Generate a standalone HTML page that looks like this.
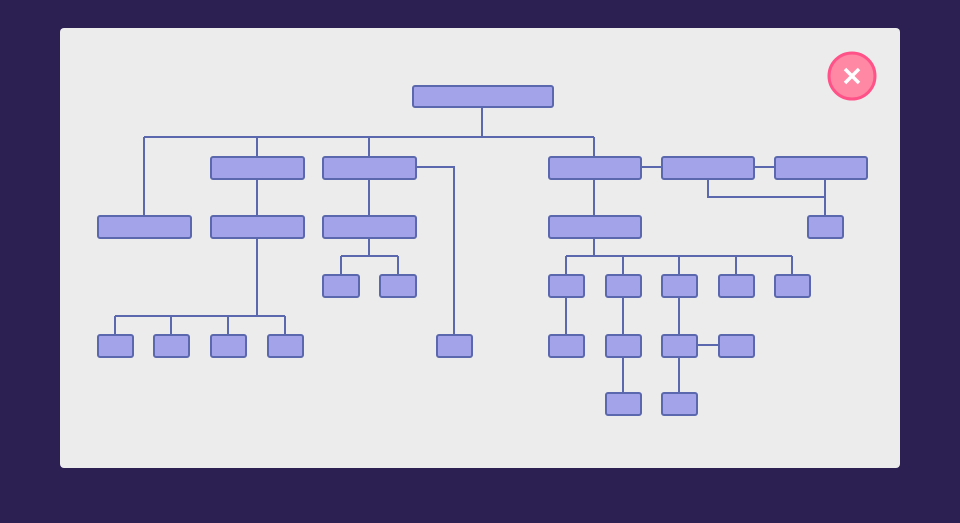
<!DOCTYPE html>
<html><head><meta charset="utf-8"><style>
html,body{margin:0;padding:0;width:960px;height:523px;overflow:hidden;background:#2c1f51}
.p{position:absolute;left:60px;top:28px;width:840px;height:440px;background:#ececec;border-radius:4px}
svg{position:absolute;left:0;top:0}
</style></head><body>
<div class="p"></div>
<svg width="960" height="523" viewBox="0 0 960 523">
<g stroke="#5b68ad" stroke-width="2" fill="none">
<path d="M482 107V137M144 137H594M144 137V216M257 137V157M369 137V157M594 137V157"/>
<path d="M257 179V216M257 238V316M115 316H285M115 316V335M171 316V335M228 316V335M285 316V335"/>
<path d="M416 167H454V335M369 179V216M369 238V256M341 256H398M341 256V275M398 256V275"/>
<path d="M641 167H661M754 167H774M708 179V197H825M825 179V216M594 179V216M594 238V256M566 256H792M566 256V275M623 256V275M679 256V275M736 256V275M792 256V275"/>
<path d="M566 297V335M623 297V393M679 297V393M697 345H718"/>
</g>
<g fill="#a3a3e9" stroke="#5b68ad" stroke-width="2">
<rect x="413" y="86" width="140" height="21" rx="2"/>
<rect x="211" y="157" width="93" height="22" rx="2"/>
<rect x="323" y="157" width="93" height="22" rx="2"/>
<rect x="549" y="157" width="92" height="22" rx="2"/>
<rect x="662" y="157" width="92" height="22" rx="2"/>
<rect x="775" y="157" width="92" height="22" rx="2"/>
<rect x="98" y="216" width="93" height="22" rx="2"/>
<rect x="211" y="216" width="93" height="22" rx="2"/>
<rect x="323" y="216" width="93" height="22" rx="2"/>
<rect x="549" y="216" width="92" height="22" rx="2"/>
<rect x="808" y="216" width="35" height="22" rx="2"/>
<rect x="323" y="275" width="36" height="22" rx="2"/>
<rect x="380" y="275" width="36" height="22" rx="2"/>
<rect x="549" y="275" width="35" height="22" rx="2"/>
<rect x="606" y="275" width="35" height="22" rx="2"/>
<rect x="662" y="275" width="35" height="22" rx="2"/>
<rect x="719" y="275" width="35" height="22" rx="2"/>
<rect x="775" y="275" width="35" height="22" rx="2"/>
<rect x="98" y="335" width="35" height="22" rx="2"/>
<rect x="154" y="335" width="35" height="22" rx="2"/>
<rect x="211" y="335" width="35" height="22" rx="2"/>
<rect x="268" y="335" width="35" height="22" rx="2"/>
<rect x="437" y="335" width="35" height="22" rx="2"/>
<rect x="549" y="335" width="35" height="22" rx="2"/>
<rect x="606" y="335" width="35" height="22" rx="2"/>
<rect x="662" y="335" width="35" height="22" rx="2"/>
<rect x="719" y="335" width="35" height="22" rx="2"/>
<rect x="606" y="393" width="35" height="22" rx="2"/>
<rect x="662" y="393" width="35" height="22" rx="2"/>
</g>
<circle cx="852" cy="76" r="23" fill="#ff88a5" stroke="#ff5288" stroke-width="3"/>
<path d="M845 69L859 83M859 69L845 83" stroke="#fff" stroke-width="3.5"/>
</svg>
</body></html>
